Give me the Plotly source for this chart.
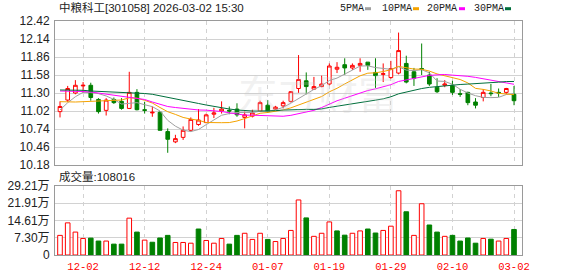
import plotly.graph_objects as go

# ---------------- data ----------------
dates = ["11-27", "11-28", "12-01", "12-02", "12-03", "12-04", "12-05", "12-08", "12-09", "12-10",
         "12-11", "12-12", "12-15", "12-16", "12-17", "12-18", "12-19", "12-22", "12-23", "12-24",
         "12-25", "12-26", "12-29", "12-30", "12-31", "01-05", "01-06", "01-07", "01-08", "01-09",
         "01-12", "01-13", "01-14", "01-15", "01-16", "01-19", "01-20", "01-21", "01-22", "01-23",
         "01-26", "01-27", "01-28", "01-29", "01-30", "02-02", "02-03", "02-04", "02-05", "02-06",
         "02-09", "02-10", "02-11", "02-12", "02-13", "02-24", "02-25", "02-26", "02-27", "03-02"]

open_ = [11.01, 11.19, 11.30, 11.41, 11.42, 11.20, 11.03, 11.20, 11.17, 11.06,
         11.31, 11.04, 10.99, 11.00, 10.70, 10.54, 10.61, 10.72, 10.81, 10.84,
         10.97, 11.02, 11.03, 11.05, 10.92, 10.94, 11.02, 11.11, 11.05, 11.10,
         11.17, 11.37, 11.49, 11.36, 11.40, 11.44, 11.67, 11.74, 11.69, 11.73,
         11.78, 11.62, 11.59, 11.54, 11.61, 11.76, 11.63, 11.68, 11.58, 11.39,
         11.42, 11.42, 11.29, 11.31, 11.16, 11.23, 11.30, 11.31, 11.31, 11.28]
high = [11.17, 11.41, 11.50, 11.47, 11.46, 11.22, 11.22, 11.23, 11.22, 11.63,
        11.36, 11.16, 11.09, 11.02, 10.75, 10.65, 10.78, 10.92, 11.05, 10.98,
        11.07, 11.17, 11.09, 11.14, 11.01, 11.04, 11.18, 11.19, 11.10, 11.18,
        11.33, 11.89, 11.62, 11.55, 11.57, 11.76, 11.78, 11.84, 11.76, 11.84,
        11.78, 11.84, 11.76, 11.80, 12.24, 11.88, 11.69, 12.07, 11.63, 11.53,
        11.50, 11.49, 11.36, 11.32, 11.22, 11.36, 11.44, 11.37, 11.38, 11.41]
low = [10.92, 11.16, 11.28, 11.30, 11.18, 10.98, 10.95, 11.13, 11.04, 11.05,
       11.03, 10.98, 10.93, 10.72, 10.37, 10.52, 10.57, 10.70, 10.79, 10.83,
       10.91, 10.98, 10.97, 10.93, 10.75, 10.92, 11.02, 10.99, 11.04, 11.06,
       11.15, 11.30, 11.28, 11.35, 11.39, 11.42, 11.61, 11.58, 11.66, 11.63,
       11.66, 11.38, 11.47, 11.52, 11.59, 11.45, 11.41, 11.58, 11.41, 11.30,
       11.39, 11.27, 11.24, 11.11, 11.06, 11.17, 11.25, 11.24, 11.28, 11.11]
close = [11.09, 11.37, 11.42, 11.42, 11.23, 11.01, 11.19, 11.15, 11.06, 11.31,
         11.04, 11.03, 11.00, 10.72, 10.58, 10.59, 10.72, 10.89, 10.88, 10.96,
         10.99, 11.05, 11.02, 10.96, 10.96, 10.99, 11.15, 11.01, 11.08, 11.15,
         11.32, 11.51, 11.40, 11.40, 11.44, 11.72, 11.70, 11.69, 11.73, 11.76,
         11.73, 11.57, 11.60, 11.68, 11.96, 11.47, 11.53, 11.67, 11.44, 11.32,
         11.44, 11.31, 11.28, 11.15, 11.11, 11.31, 11.29, 11.30, 11.37, 11.18]

# volume in 万 (10k)
volume = [8.3, 13.6, 9.7, 7.0, 7.15, 5.9, 5.9, 4.6, 4.6, 15.6,
          9.7, 6.3, 5.4, 7.2, 8.3, 5.3, 5.3, 5.0, 11.0, 6.15,
          5.0, 7.0, 4.6, 8.3, 9.2, 6.6, 9.2, 6.6, 5.7, 7.0,
          10.4, 23.3, 15.7, 7.9, 9.2, 14.0, 10.2, 8.4, 9.2, 10.2,
          11.0, 9.3, 10.4, 12.2, 27.2, 18.3, 8.3, 21.7, 12.7, 9.7,
          7.9, 8.3, 5.9, 7.2, 5.0, 7.0, 6.7, 5.9, 7.0, 10.8016]
# 1 = red (up) bar, 0 = green (down) bar
vol_up = [1, 1, 1, 1, 0, 0, 1, 0, 0, 1,
          0, 1, 0, 0, 0, 1, 1, 1, 0, 1,
          1, 1, 0, 0, 1, 1, 1, 0, 1, 1,
          1, 1, 0, 1, 1, 1, 0, 0, 1, 1,
          0, 0, 1, 1, 1, 0, 1, 1, 0, 0,
          1, 0, 0, 0, 0, 1, 0, 1, 1, 0]

# leading moving-average values (window not yet filled by visible closes)
ma5_head = [11.036, 11.149, 11.242, 11.311]
ma10_head = [11.165, 11.160, 11.160, 11.165, 11.168, 11.171, 11.176, 11.183, 11.191]
ma20_head = [11.331, 11.331, 11.331, 11.323, 11.316, 11.300, 11.280, 11.261, 11.242, 11.230,
             11.218, 11.199, 11.160, 11.129, 11.090, 11.074, 11.059, 11.046, 11.036]
ma30_head = [11.347, 11.347, 11.347, 11.342, 11.331, 11.326, 11.320, 11.316, 11.311, 11.308,
             11.300, 11.292, 11.280, 11.258, 11.233, 11.211, 11.191, 11.165, 11.137, 11.113,
             11.090, 11.067, 11.051, 11.036, 11.025, 11.020, 11.020, 11.020, 11.025]

price_ticks = [10.18, 10.46, 10.74, 11.02, 11.30, 11.58, 11.86, 12.14, 12.42]
vol_ticks = [0, 7.30, 14.61, 21.91, 29.21]
vol_tick_text = ["0", "7.30万", "14.61万", "21.91万", "29.21万"]
date_ticks = ["12-02", "12-12", "12-24", "01-07", "01-19", "01-29", "02-10", "03-02"]

title_text = "中粮科工[301058] 2026-03-02 15:30"
vol_label = "成交量:108016"
ma_names = ["5PMA", "10PMA", "20PMA", "30PMA"]


def moving_average(n, head):
    out = list(head)
    for i in range(len(head), len(close)):
        out.append(sum(close[i - n + 1:i + 1]) / n)
    return out


ma_series = [moving_average(5, ma5_head), moving_average(10, ma10_head),
             moving_average(20, ma20_head), moving_average(30, ma30_head)]

# ---------------- style ----------------
W, H = 578, 276
L, R, T, B = 55, 56, 21, 21
PW, PH = W - L - R, H - T - B
RED = "#ff0000"
GREEN = "#008000"
ma_colors = ["#a0a0a0", "#f5a300", "#ff00ff", "#006f3c"]
GRID = "#d2d2d2"
FRAME = "#9a9a9a"
TXT = "#222222"
SANS = "Liberation Sans, Arial, Noto Sans CJK SC, sans-serif"
MONO = "Liberation Mono, Courier New, monospace"


def px_x(x):
    return (x - L) / PW


def px_y(y):
    return (H - B - y) / PH


fig = go.Figure()

# watermark
fig.add_annotation(xref="paper", yref="paper", x=px_x(318), y=px_y(92), text="东方财富",
                   showarrow=False, font=dict(size=40, color="rgba(200,200,200,0.25)",
                                               family="Noto Sans CJK SC"),
                   xanchor="center", yanchor="middle")

fig.add_trace(go.Candlestick(
    x=dates, open=open_, high=high, low=low, close=close,
    increasing=dict(line=dict(color=RED, width=1), fillcolor="white"),
    decreasing=dict(line=dict(color=GREEN, width=1), fillcolor=GREEN),
    whiskerwidth=0, xaxis="x", yaxis="y", hoverinfo="skip"))

for vals, col in zip(ma_series, ma_colors):
    fig.add_trace(go.Scatter(x=dates, y=vals, mode="lines", line=dict(color=col, width=1),
                             xaxis="x", yaxis="y", hoverinfo="skip"))

fig.add_trace(go.Bar(
    x=dates, y=volume, width=0.6,
    marker=dict(color=["white" if u else GREEN for u in vol_up],
                line=dict(color=[RED if u else GREEN for u in vol_up], width=1)),
    xaxis="x2", yaxis="y2", hoverinfo="skip"))

xcommon = dict(type="category", categoryorder="array", categoryarray=dates,
               range=[-0.65, 60.04], tickmode="array", tickvals=date_ticks, ticktext=date_ticks,
               showgrid=True, gridcolor=GRID, griddash="4px,4px", gridwidth=1,
               showline=True, mirror=True, linecolor=FRAME, linewidth=1, ticks="",
               zeroline=False, fixedrange=True, automargin=False)

fig.update_layout(
    width=W, height=H, margin=dict(l=L, r=R, t=T, b=B),
    paper_bgcolor="white", plot_bgcolor="white", showlegend=False, boxgap=0.32,
    xaxis=dict(xcommon, domain=[0, 1], anchor="y", showticklabels=False,
               rangeslider=dict(visible=False)),
    yaxis=dict(domain=[px_y(165), 1], range=[10.18, 12.42], tickmode="array",
               tickvals=price_ticks, ticktext=["%.2f" % v for v in price_ticks],
               showgrid=True, gridcolor=GRID, gridwidth=1, showline=True, mirror=True,
               linecolor=FRAME, linewidth=1, ticks="", zeroline=False, automargin=False,
               tickfont=dict(family=SANS, size=12, color=TXT), ticklabelstandoff=2),
    xaxis2=dict(xcommon, domain=[0, 1], anchor="y2", showticklabels=True,
                tickfont=dict(family=MONO, size=10.5, color=RED), ticklabelstandoff=1),
    yaxis2=dict(domain=[0, px_y(186)], range=[0, 29.21], tickmode="array",
                tickvals=vol_ticks, ticktext=vol_tick_text, automargin=False,
                showgrid=True, gridcolor=GRID, gridwidth=1, showline=True, mirror=True,
                linecolor=FRAME, linewidth=1, ticks="", zeroline=False,
                tickfont=dict(family=SANS, size=12, color=TXT), ticklabelstandoff=2),
)

# title
fig.add_annotation(xref="paper", yref="paper", x=px_x(57), y=px_y(8), text=title_text,
                   showarrow=False, xanchor="left", yanchor="middle",
                   font=dict(family=SANS, size=11.5, color=TXT))
# volume label
fig.add_annotation(xref="paper", yref="paper", x=px_x(57), y=px_y(176.5), text=vol_label,
                   showarrow=False, xanchor="left", yanchor="middle",
                   font=dict(family=SANS, size=11.5, color=TXT))

# MA legend
leg_text_x = [338, 380, 425, 472]
leg_rect_x = [365, 413, 459, 505]
for name, col, tx, rx in zip(ma_names, ma_colors, leg_text_x, leg_rect_x):
    fig.add_annotation(xref="paper", yref="paper", x=px_x(tx), y=px_y(8.8), text=name,
                       showarrow=False, xanchor="left", yanchor="middle",
                       font=dict(family=MONO, size=10, color=TXT))
    fig.add_shape(type="rect", xref="paper", yref="paper",
                  x0=px_x(rx), x1=px_x(rx + 6), y0=px_y(10.2), y1=px_y(7.2),
                  fillcolor=col, line=dict(width=0))

fig.write_html("out.html")
